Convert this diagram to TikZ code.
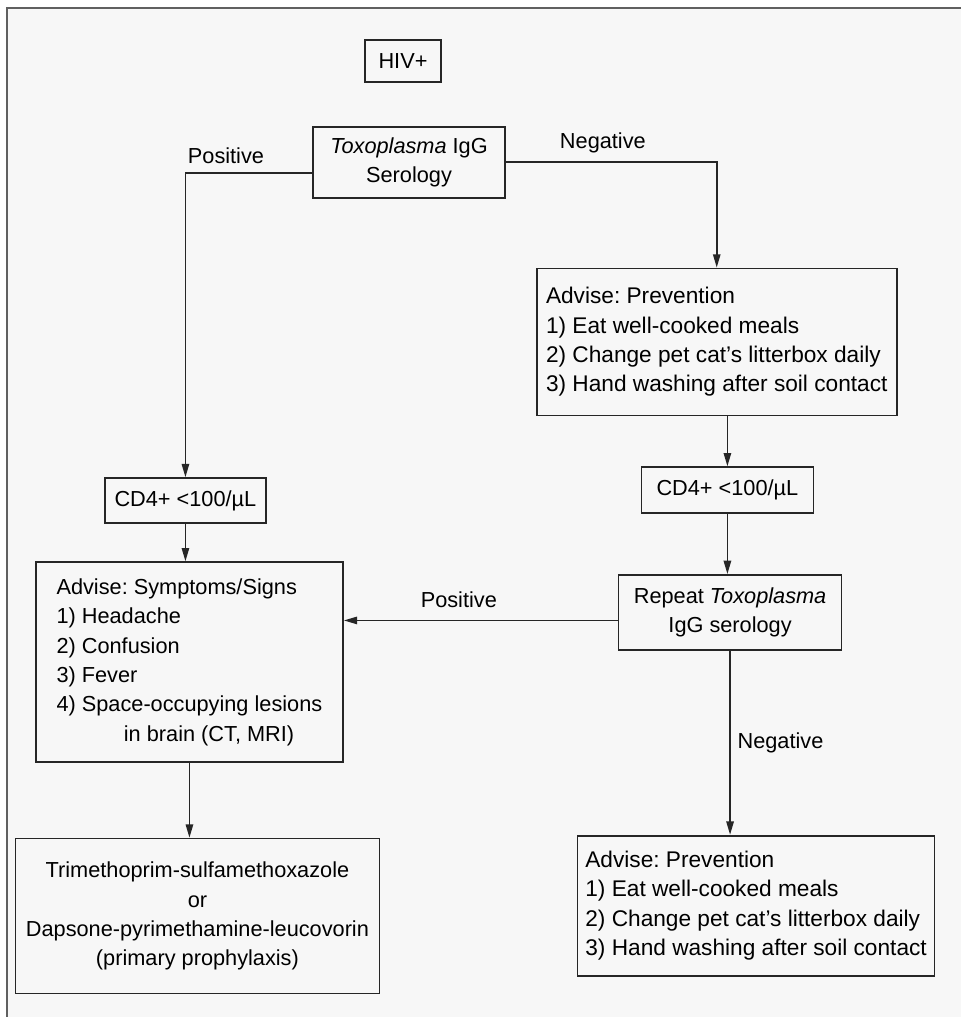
\documentclass[tikz,border=0pt]{standalone}
\usepackage{fontspec}
\setmainfont{Liberation Sans}
\usetikzlibrary{positioning,arrows.meta}
\usepackage{xcolor}
\frenchspacing

\begin{document}
\begin{tikzpicture}[
    x=0.75pt, y=-0.75pt,
    node distance=40pt and 30pt,
    box/.style={draw=black!85, line width=1.3pt, inner sep=0pt, align=center, text=black, font=\fontsize{16.3}{22}\selectfont},
    advise/.style={box, align=left, font=\fontsize{17}{22}\selectfont},
    lbl/.style={inner sep=3pt, text=black, font=\fontsize{16.3}{22}\selectfont},
    link/.style={draw=black!85, line width=1.3pt, -{Triangle[length=10pt,width=5.5pt]}}
  ]
    \useasboundingbox (0,0) rectangle (961,1017);
    \fill[gray!6] (7,8) rectangle (961,1017);
    \draw[gray!75!black, line width=1pt] (7,1017) -- (7,8) -- (961,8);

    \node[box, minimum width=57pt, minimum height=31.5pt] (hiv) at (403,61) {HIV+};
    \node[box, minimum width=144pt, minimum height=53.25pt, below=32.25pt of hiv, xshift=4.5pt] (tox) {\textit{Toxoplasma} IgG\\Serology};
    \node[advise, minimum width=270pt, minimum height=110.25pt, below right=51.75pt and 22.5pt of tox] (prev1) {Advise: Prevention\\1) Eat well-cooked meals\\2) Change pet cat's litterbox daily\\3) Hand washing after soil contact};
    \node[box, minimum width=129pt, minimum height=34.5pt, below=37.5pt of prev1, xshift=8pt] (cd4r) {CD4+ <100/µL};
    \node[box, minimum width=167.25pt, minimum height=56.25pt, below=45pt of cd4r, xshift=2pt] (repeat) {Repeat \textit{Toxoplasma}\\IgG serology};
    \node[advise, minimum width=267.75pt, minimum height=105pt, below=138pt of repeat, xshift=19.5pt] (prev2) {Advise: Prevention\\1) Eat well-cooked meals\\2) Change pet cat's litterbox daily\\3) Hand washing after soil contact};
    \node[box, minimum width=120.75pt, minimum height=33.75pt, below left=209pt and 34pt of tox] (cd4l) {CD4+ <100/µL};
    \node[box, align=left, minimum width=230.25pt, minimum height=150pt, below=28pt of cd4l, xshift=3pt] (symp) {Advise: Symptoms/Signs\\1) Headache\\2) Confusion\\3) Fever\\4) Space-occupying lesions\\\hspace*{3.1em}in brain (CT, MRI)};
    \node[box, minimum width=273pt, minimum height=116.25pt, below=56pt of symp, xshift=6pt] (drug) {Trimethoprim-sulfamethoxazole\\or\\Dapsone-pyrimethamine-leucovorin\\(primary prophylaxis)};

    \coordinate (rp) at ([yshift=-6pt]repeat.west);

    \draw[link] ([yshift=-8pt]tox.west) -| (cd4l) node[lbl, above=3pt, pos=0.34] {Positive};
    \draw[link] (tox) -| (prev1) node[lbl, above=3pt, pos=0.23] {Negative};
    \draw[link] (cd4r |- prev1.south) -- (cd4r);
    \draw[link] (cd4r) -- (cd4r |- repeat.north);
    \draw[link] (rp) -- (rp -| symp.east) node[lbl, above=6pt, pos=0.58] {Positive};
    \draw[link] (repeat) -- (repeat |- prev2.north) node[lbl, right=2pt, pos=0.5] {Negative};
    \draw[link] (cd4l) -- (cd4l |- symp.north);
    \draw[link] (symp) -- (symp |- drug.north);
  \end{tikzpicture}
\end{document}
